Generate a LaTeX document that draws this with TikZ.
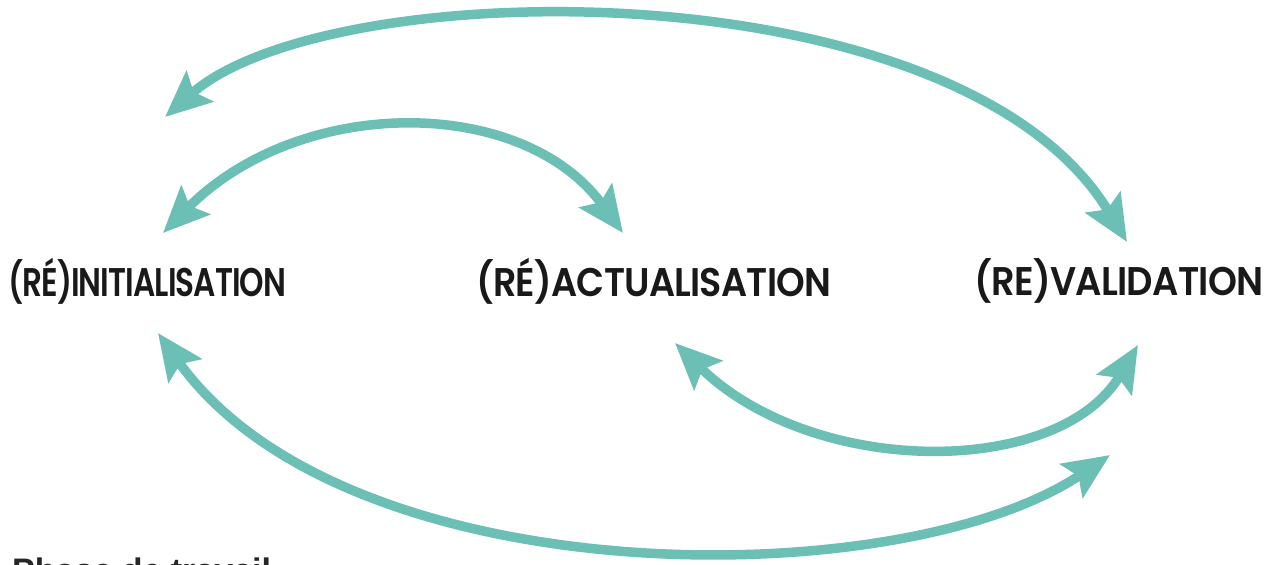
\documentclass[tikz,border=0pt]{standalone}
\usepackage{fontspec}
\newfontfamily\capfont{Poppins SemiBold}
\newfontfamily\footfont{Liberation Sans Bold}
\usetikzlibrary{arrows.meta}
\definecolor{teal1}{RGB}{108,191,180}
\tikzset{
  tip/.tip={Stealth[length=46pt,width=40pt,inset=8pt]},
  conn/.style={draw=teal1, line width=9.5pt, {tip}-{tip}},
  lab/.style={inner sep=0pt, font=\capfont\fontsize{40}{42}\selectfont, text=black!90}
}
\begin{document}
\begin{tikzpicture}[x=1pt,y=-1pt]
\useasboundingbox (0,0) rectangle (1270,565);
\begin{scope}
\clip (0,0) rectangle (1270,565);
\node[lab, anchor=west] (ini) at (8,281) {\resizebox{278pt}{\height}{\addfontfeature{LetterSpace=-3}(RÉ)INITIALISATION}};
\node[lab, anchor=west] (act) at (476,281) {\resizebox{355pt}{\height}{\addfontfeature{LetterSpace=-2}(RÉ)ACTUALISATION}};
\node[lab, anchor=west] (val) at (974,281) {\resizebox{289pt}{\height}{\addfontfeature{LetterSpace=-2}(RE)VALIDATION}};
\node[anchor=north west, inner sep=0pt, font=\footfont\fontsize{34}{38}\selectfont, text=black!85] (foot) at (12,558) {Phase de travail};

\coordinate (a1) at (165,117);
\coordinate (a2) at (1127,242);
\coordinate (b1) at (163,233);
\coordinate (b2) at (623,233);
\coordinate (c1) at (675,343);
\coordinate (c2) at (1138,345);
\coordinate (d1) at (158,333);
\coordinate (d2) at (1110,455);

\draw[conn] (a1) .. controls (330,-28) and (960,-34) .. (a2);
\draw[conn] (b1) .. controls (300,95) and (522,95) .. (b2);
\draw[conn] (c1) .. controls (814,478) and (1059,478) .. (c2);
\draw[conn] (d1) .. controls (346,596) and (900,596) .. (d2);
\end{scope}
\end{tikzpicture}
\end{document}
